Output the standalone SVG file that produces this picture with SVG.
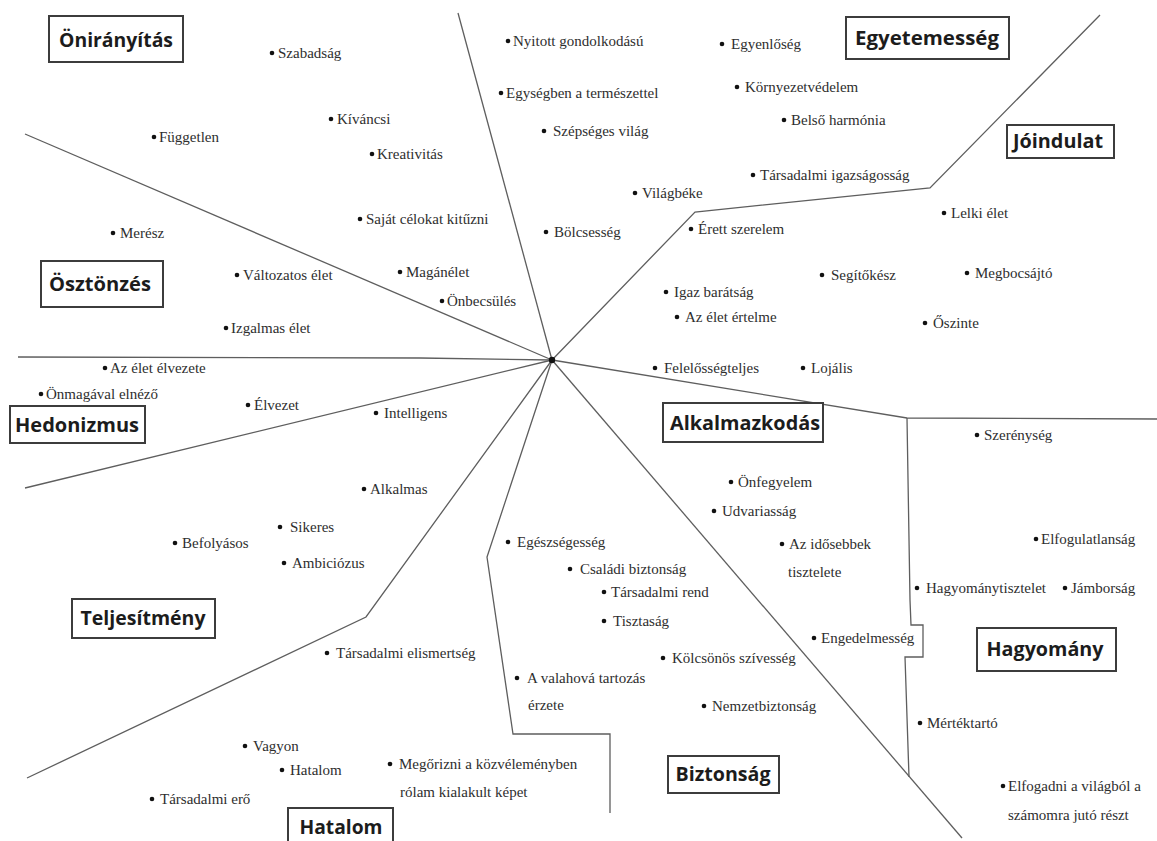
<svg xmlns="http://www.w3.org/2000/svg" width="1157" height="841" viewBox="0 0 1157 841">
<style>
.ln{fill:none;stroke:#5e5e5e;stroke-width:1.3;stroke-linejoin:miter}
.box{fill:#fff;stroke:#3c3c3c;stroke-width:2}
.cat{font-family:'Open Sans','Liberation Sans',sans-serif;font-weight:700;font-size:20px;fill:#1c1c1c;text-anchor:middle}
.v{font-family:'Times New Roman','Liberation Serif','DejaVu Serif',serif;font-size:15px;fill:#2e2e2e}
.d{fill:#111}
</style>
<rect width="1157" height="841" fill="#fff"/>
<g id="connectors">
<path class="ln" d="M458,13 L552,360"/>
<path class="ln" d="M552,360 L695,212 L930,188 L1100,15"/>
<path class="ln" d="M25,134 L552,360"/>
<path class="ln" d="M18,357 L420,358 L552,360"/>
<path class="ln" d="M25,488 L552,360"/>
<path class="ln" d="M552,360 L366,617 L27,778"/>
<path class="ln" d="M552,360 L487,557 L513,734 L610,734 L610,813"/>
<path class="ln" d="M552,360 L962,838"/>
<path class="ln" d="M552,360 L907,418 L1157,419"/>
<path class="ln" d="M907,418 L910,600 L911,625 L923,625 L923,657 L905,657 L909,777"/>
<circle cx="552" cy="360" r="3.2" class="d"/>
</g>
<g id="cat-onirnyitas"><rect class="box" x="49" y="16" width="134" height="46"/><text class="cat" x="116" y="47" textLength="114" lengthAdjust="spacingAndGlyphs">Önirányítás</text></g>
<g id="cat-egyetemesseg"><rect class="box" x="846" y="17" width="163" height="42"/><text class="cat" x="927" y="45" textLength="144" lengthAdjust="spacingAndGlyphs">Egyetemesség</text></g>
<g id="cat-joindulat"><rect class="box" x="1007" y="125" width="107" height="33"/><text class="cat" x="1058" y="148" textLength="90" lengthAdjust="spacingAndGlyphs">Jóindulat</text></g>
<g id="cat-osztonzes"><rect class="box" x="41" y="261" width="122" height="46"/><text class="cat" x="100" y="291" textLength="102" lengthAdjust="spacingAndGlyphs">Ösztönzés</text></g>
<g id="cat-hedonizmus"><rect class="box" x="10" y="406" width="135" height="37"/><text class="cat" x="77" y="432" textLength="124" lengthAdjust="spacingAndGlyphs">Hedonizmus</text></g>
<g id="cat-alkalmazkodas"><rect class="box" x="663" y="403" width="160" height="39"/><text class="cat" x="745" y="430" textLength="150" lengthAdjust="spacingAndGlyphs">Alkalmazkodás</text></g>
<g id="cat-teljesitmeny"><rect class="box" x="72" y="599" width="143" height="39"/><text class="cat" x="143" y="625" textLength="125" lengthAdjust="spacingAndGlyphs">Teljesítmény</text></g>
<g id="cat-hatalom"><rect class="box" x="288" y="808" width="105" height="45"/><text class="cat" x="341" y="834" textLength="83" lengthAdjust="spacingAndGlyphs">Hatalom</text></g>
<g id="cat-biztonsag"><rect class="box" x="668" y="756" width="111" height="37"/><text class="cat" x="723" y="781" textLength="95" lengthAdjust="spacingAndGlyphs">Biztonság</text></g>
<g id="cat-hagyomany"><rect class="box" x="977" y="628" width="139" height="43"/><text class="cat" x="1045" y="656" textLength="117" lengthAdjust="spacingAndGlyphs">Hagyomány</text></g>

<g id="values">
<g id="v-szabadsag"><circle class="d" cx="272" cy="53" r="2.3"/><text class="v" x="278" y="58">Szabadság</text></g>
<g id="v-kivancsi"><circle class="d" cx="331" cy="119" r="2.3"/><text class="v" x="337" y="124">Kíváncsi</text></g>
<g id="v-fuggetlen"><circle class="d" cx="154" cy="137" r="2.3"/><text class="v" x="159" y="142">Független</text></g>
<g id="v-kreativitas"><circle class="d" cx="372" cy="154" r="2.3"/><text class="v" x="377" y="159">Kreativitás</text></g>
<g id="v-sajat"><circle class="d" cx="360" cy="219" r="2.3"/><text class="v" x="366" y="224">Saját célokat kitűzni</text></g>
<g id="v-meresz"><circle class="d" cx="113" cy="233" r="2.3"/><text class="v" x="120" y="238">Merész</text></g>
<g id="v-valtozatos"><circle class="d" cx="237" cy="275" r="2.3"/><text class="v" x="243" y="280">Változatos élet</text></g>
<g id="v-maganelet"><circle class="d" cx="400" cy="272" r="2.3"/><text class="v" x="406" y="277">Magánélet</text></g>
<g id="v-onbecsules"><circle class="d" cx="442" cy="301" r="2.3"/><text class="v" x="447" y="306">Önbecsülés</text></g>
<g id="v-izgalmas"><circle class="d" cx="226" cy="328" r="2.3"/><text class="v" x="231" y="333">Izgalmas élet</text></g>
<g id="v-elvezete"><circle class="d" cx="105" cy="368" r="2.3"/><text class="v" x="110" y="373">Az élet élvezete</text></g>
<g id="v-onmagaval"><circle class="d" cx="41" cy="394" r="2.3"/><text class="v" x="46" y="399">Önmagával elnéző</text></g>
<g id="v-elvezet"><circle class="d" cx="248" cy="405" r="2.3"/><text class="v" x="254" y="410">Élvezet</text></g>
<g id="v-intelligens"><circle class="d" cx="376" cy="413" r="2.3"/><text class="v" x="384" y="418">Intelligens</text></g>
<g id="v-alkalmas"><circle class="d" cx="364" cy="489" r="2.3"/><text class="v" x="370" y="494">Alkalmas</text></g>
<g id="v-sikeres"><circle class="d" cx="280" cy="527" r="2.3"/><text class="v" x="290" y="532">Sikeres</text></g>
<g id="v-befolyasos"><circle class="d" cx="175" cy="543" r="2.3"/><text class="v" x="182" y="548">Befolyásos</text></g>
<g id="v-ambiciozus"><circle class="d" cx="284" cy="563" r="2.3"/><text class="v" x="292" y="568">Ambiciózus</text></g>
<g id="v-elismertseg"><circle class="d" cx="327" cy="653" r="2.3"/><text class="v" x="336" y="658">Társadalmi elismertség</text></g>
<g id="v-vagyon"><circle class="d" cx="245" cy="746" r="2.3"/><text class="v" x="253" y="751">Vagyon</text></g>
<g id="v-hatalom"><circle class="d" cx="282" cy="770" r="2.3"/><text class="v" x="290" y="775">Hatalom</text></g>
<g id="v-tarsero"><circle class="d" cx="152" cy="799" r="2.3"/><text class="v" x="160" y="804">Társadalmi erő</text></g>
<g id="v-megorizni"><circle class="d" cx="390" cy="764" r="2.3"/><text class="v" x="399" y="769">Megőrizni a közvéleményben</text><text class="v" x="400" y="797">rólam kialakult képet</text></g>
<g id="v-egeszseg"><circle class="d" cx="508" cy="542" r="2.3"/><text class="v" x="517" y="547">Egészségesség</text></g>
<g id="v-csaladi"><circle class="d" cx="570" cy="569" r="2.3"/><text class="v" x="580" y="574">Családi biztonság</text></g>
<g id="v-rend"><circle class="d" cx="604" cy="592" r="2.3"/><text class="v" x="611" y="597">Társadalmi rend</text></g>
<g id="v-tisztasag"><circle class="d" cx="604" cy="621" r="2.3"/><text class="v" x="613" y="626">Tisztaság</text></g>
<g id="v-kolcsonos"><circle class="d" cx="663" cy="658" r="2.3"/><text class="v" x="672" y="663">Kölcsönös szívesség</text></g>
<g id="v-valahova"><circle class="d" cx="517" cy="678" r="2.3"/><text class="v" x="527" y="683">A valahová tartozás</text><text class="v" x="528" y="710">érzete</text></g>
<g id="v-nemzet"><circle class="d" cx="704" cy="706" r="2.3"/><text class="v" x="712" y="711">Nemzetbiztonság</text></g>
<g id="v-onfegyelem"><circle class="d" cx="731" cy="482" r="2.3"/><text class="v" x="738" y="487">Önfegyelem</text></g>
<g id="v-udvariassag"><circle class="d" cx="714" cy="511" r="2.3"/><text class="v" x="722" y="516">Udvariasság</text></g>
<g id="v-idosebbek"><circle class="d" cx="782" cy="544" r="2.3"/><text class="v" x="789" y="549">Az idősebbek</text><text class="v" x="788" y="577">tisztelete</text></g>
<g id="v-engedelmesseg"><circle class="d" cx="814" cy="638" r="2.3"/><text class="v" x="821" y="643">Engedelmesség</text></g>
<g id="v-szerenyseg"><circle class="d" cx="977" cy="435" r="2.3"/><text class="v" x="984" y="440">Szerénység</text></g>
<g id="v-elfogulatlansag"><circle class="d" cx="1036" cy="539" r="2.3"/><text class="v" x="1041" y="544">Elfogulatlanság</text></g>
<g id="v-hagyomanytisztelet"><circle class="d" cx="917" cy="588" r="2.3"/><text class="v" x="926" y="593">Hagyománytisztelet</text></g>
<g id="v-jamborsag"><circle class="d" cx="1065" cy="588" r="2.3"/><text class="v" x="1071" y="593">Jámborság</text></g>
<g id="v-mertektarto"><circle class="d" cx="920" cy="723" r="2.3"/><text class="v" x="927" y="728">Mértéktartó</text></g>
<g id="v-elfogadni"><circle class="d" cx="1003" cy="786" r="2.3"/><text class="v" x="1008" y="791">Elfogadni a világból a</text><text class="v" x="1008" y="820">számomra jutó részt</text></g>
<g id="v-lelki"><circle class="d" cx="944" cy="213" r="2.3"/><text class="v" x="951" y="218">Lelki élet</text></g>
<g id="v-megbocsajto"><circle class="d" cx="967" cy="273" r="2.3"/><text class="v" x="975" y="278">Megbocsájtó</text></g>
<g id="v-segitokesz"><circle class="d" cx="822" cy="275" r="2.3"/><text class="v" x="831" y="280">Segítőkész</text></g>
<g id="v-oszinte"><circle class="d" cx="925" cy="323" r="2.3"/><text class="v" x="933" y="328">Őszinte</text></g>
<g id="v-lojalis"><circle class="d" cx="803" cy="368" r="2.3"/><text class="v" x="811" y="373">Lojális</text></g>
<g id="v-baratsag"><circle class="d" cx="666" cy="292" r="2.3"/><text class="v" x="674" y="297">Igaz barátság</text></g>
<g id="v-ertelme"><circle class="d" cx="677" cy="317" r="2.3"/><text class="v" x="685" y="322">Az élet értelme</text></g>
<g id="v-felelosseg"><circle class="d" cx="655" cy="368" r="2.3"/><text class="v" x="664" y="373">Felelősségteljes</text></g>
<g id="v-erett"><circle class="d" cx="691" cy="229" r="2.3"/><text class="v" x="698" y="234">Érett szerelem</text></g>
<g id="v-nyitott"><circle class="d" cx="508" cy="41" r="2.3"/><text class="v" x="513" y="46">Nyitott gondolkodású</text></g>
<g id="v-egyenloseg"><circle class="d" cx="722" cy="44" r="2.3"/><text class="v" x="731" y="49">Egyenlőség</text></g>
<g id="v-egysegben"><circle class="d" cx="501" cy="93" r="2.3"/><text class="v" x="506" y="98">Egységben a természettel</text></g>
<g id="v-kornyezet"><circle class="d" cx="737" cy="87" r="2.3"/><text class="v" x="745" y="92">Környezetvédelem</text></g>
<g id="v-szepseges"><circle class="d" cx="544" cy="131" r="2.3"/><text class="v" x="553" y="136">Szépséges világ</text></g>
<g id="v-belso"><circle class="d" cx="784" cy="120" r="2.3"/><text class="v" x="791" y="125">Belső harmónia</text></g>
<g id="v-igazsagossag"><circle class="d" cx="753" cy="175" r="2.3"/><text class="v" x="760" y="180">Társadalmi igazságosság</text></g>
<g id="v-vilagbeke"><circle class="d" cx="635" cy="193" r="2.3"/><text class="v" x="642" y="198">Világbéke</text></g>
<g id="v-bolcsesseg"><circle class="d" cx="546" cy="232" r="2.3"/><text class="v" x="554" y="237">Bölcsesség</text></g>
</g>
</svg>
